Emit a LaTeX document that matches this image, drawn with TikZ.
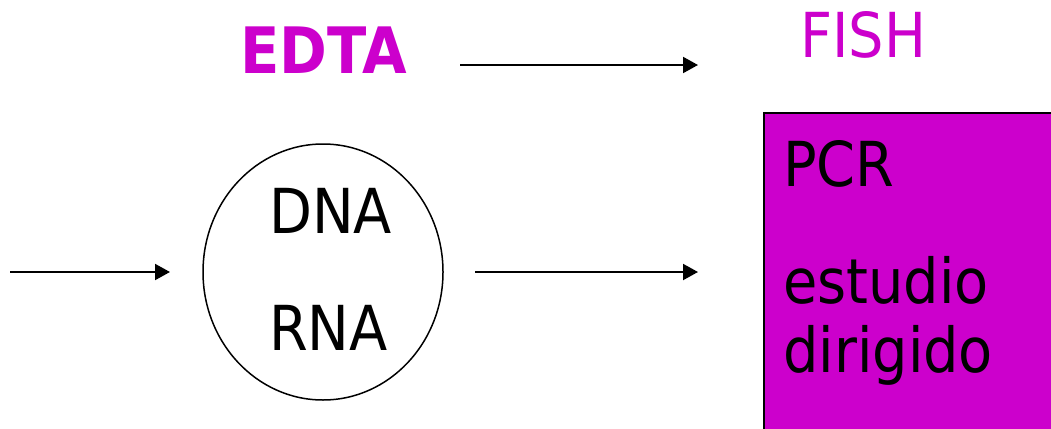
\documentclass[tikz,border=0pt]{standalone}
\usepackage{fontspec}
\setmainfont[FakeStretch=0.9]{DejaVu Sans}
\usetikzlibrary{arrows.meta,shapes.geometric}
\definecolor{mag}{HTML}{CC00CC}
\tikzset{
  conn/.style={line width=2pt,-{Triangle[length=15pt,width=16pt]}},
  big/.style={font=\fontsize{62}{62}\selectfont,inner sep=0pt,anchor=base west},
}
\begin{document}
\begin{tikzpicture}[x=1pt,y=-1pt]
\useasboundingbox (0,0) rectangle (1051,428);
% cell ellipse
\node[ellipse,draw,line width=1.5pt,minimum width=240pt,minimum height=256pt,inner sep=0pt] (cell) at (323,272) {};
\node[big] (dna) at (269,233) {DNA};
\node[big] (rna) at (269,350) {RNA};
% box
\draw[fill=mag,line width=2pt] (764,113) rectangle (1056,433);
\node[big] (pcr) at (783,186) {PCR};
\node[big] (est) at (783,303) {estudio};
\node[big] (dir) at (783,372) {dirigido};
% top labels
\node[big,text=mag,font=\fontsize{64}{64}\selectfont\bfseries] (edta) at (240,74) {EDTA};
\node[big,text=mag] (fish) at (800,57) {FISH};
% arrow endpoints
\coordinate (a1s) at (460,65);
\coordinate (a1e) at (698,65);
\coordinate (a2s) at (10,272);
\coordinate (a2e) at (170,272);
\coordinate (a3s) at (475,272);
\coordinate (a3e) at (698,272);
\draw[conn] (a1s) -- (a1e);
\draw[conn] (a2s) -- (a2e);
\draw[conn] (a3s) -- (a3e);
\end{tikzpicture}
\end{document}
